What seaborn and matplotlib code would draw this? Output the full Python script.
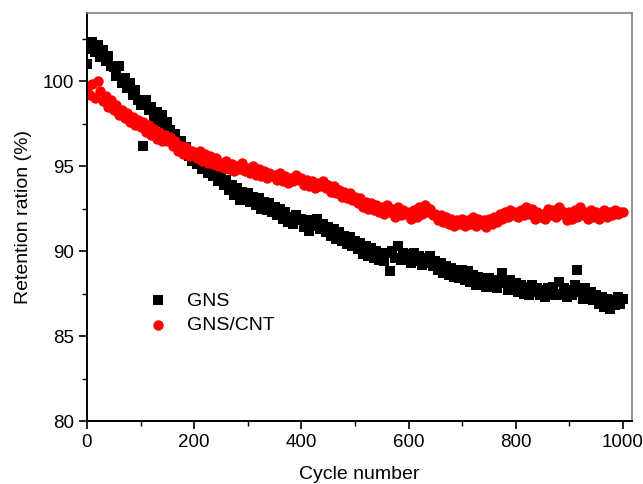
import numpy as np
import pandas as pd
import seaborn as sns
from matplotlib import pyplot as plt
from matplotlib.ticker import MultipleLocator

# retention read every 5 cycles, 0..1000
cycles = list(range(0, 1001, 5))

gns = [
    101.0, 101.9, 102.3, 101.7, 102.1, 101.4, 101.8, 101.2, 101.5, 100.9,
    100.8, 100.3, 100.9, 99.9, 100.2, 99.6, 99.9, 99.2, 99.5, 98.9,
    98.6, 96.2, 98.9, 98.3, 98.5, 97.8, 98.2, 97.6, 98.0, 97.3,
    97.6, 97.1, 96.5, 96.9, 96.2, 96.5, 95.9, 96.1, 95.6, 95.3,
    95.6, 95.1, 95.4, 94.8, 95.0, 94.6, 94.9, 94.4, 94.7, 94.1,
    94.4, 93.9, 94.2, 93.6, 93.9, 93.3, 93.7, 93.0, 93.5, 93.2,
    93.4, 92.9, 93.2, 92.7, 93.1, 92.5, 92.9, 92.4, 92.8, 92.3,
    92.6, 92.1, 92.5, 91.9, 92.3, 91.7, 92.0, 91.6, 92.1, 91.8,
    91.9, 91.4, 91.8, 91.2, 91.7, 91.5, 91.9, 91.3, 91.6, 91.1,
    91.4, 90.9, 91.3, 90.7, 91.1, 90.6, 90.9, 90.4, 90.8, 90.3,
    90.6, 90.1, 90.5, 89.8, 90.3, 89.7, 90.2, 89.6, 90.0, 89.5,
    89.9, 89.4, 89.9, 88.8, 90.0, 89.6, 90.3, 89.5, 89.9, 89.7,
    89.8, 89.3, 89.9, 89.4, 89.7, 89.2, 89.6, 89.3, 89.7, 89.1,
    89.4, 88.9, 89.3, 88.7, 89.1, 88.6, 89.0, 88.5, 88.9, 88.4,
    88.9, 88.3, 88.8, 88.2, 88.6, 88.0, 88.5, 88.1, 88.4, 87.9,
    88.4, 87.9, 88.3, 87.8, 88.2, 88.7, 88.1, 87.7, 88.3, 87.9,
    88.1, 87.6, 88.0, 87.5, 87.9, 87.4, 88.0, 87.6, 87.8, 87.4,
    87.7, 87.3, 87.8, 87.4, 87.9, 87.5, 88.2, 87.4, 87.8, 87.3,
    87.7, 87.4, 88.0, 88.9, 87.6, 87.2, 87.8, 87.3, 87.6, 87.1,
    87.4, 86.9, 87.3, 86.7, 87.2, 86.6, 87.1, 86.8, 87.3, 86.9,
    87.2,
]

gns_cnt = [
    99.6, 99.2, 99.8, 99.0, 100.0, 99.4, 98.8, 99.1, 98.5, 98.9,
    98.3, 98.6, 98.0, 98.3, 97.8, 98.1, 97.6, 97.9, 97.4, 97.7,
    97.3, 97.6, 97.0, 97.4, 96.8, 97.2, 96.6, 97.0, 96.5, 96.8,
    96.5, 96.7, 96.2, 96.5, 95.9, 96.2, 95.7, 96.1, 95.6, 95.9,
    95.8, 95.5, 95.9, 95.3, 95.7, 95.2, 95.6, 95.1, 95.5, 95.0,
    95.2, 94.9, 95.3, 94.8, 95.1, 94.7, 95.0, 94.8, 95.2, 94.7,
    94.9, 94.6, 95.0, 94.5, 94.8, 94.4, 94.7, 94.3, 94.6, 94.4,
    94.5, 94.2, 94.6, 94.1, 94.4, 94.0, 94.3, 94.1, 94.5, 94.2,
    94.3, 93.9, 94.2, 93.8, 94.1, 93.7, 94.0, 93.8, 94.1, 93.7,
    93.9, 93.5, 93.8, 93.4, 93.6, 93.2, 93.5, 93.1, 93.4, 93.0,
    93.2, 92.8, 93.1, 92.6, 92.9, 92.5, 92.8, 92.4, 92.7, 92.3,
    92.6, 92.2, 92.7, 92.3, 92.5, 92.0, 92.6, 92.1, 92.4, 92.2,
    92.3, 91.9, 92.4, 92.0, 92.6, 92.2, 92.7, 92.3, 92.5, 92.1,
    92.2, 91.8, 92.1, 91.7, 92.0, 91.6, 91.9, 91.5, 91.8, 91.6,
    91.9, 91.5, 91.8, 91.6, 92.0, 91.5, 91.9, 91.6, 91.8, 91.4,
    91.9, 91.6, 92.0, 91.7, 92.2, 91.9, 92.3, 92.0, 92.4, 92.1,
    92.3, 92.0, 92.4, 92.1, 92.6, 92.2, 92.5, 91.9, 92.3, 92.0,
    92.2, 91.9, 92.5, 92.1, 92.4, 92.0, 92.6, 92.2, 92.3, 91.8,
    92.3, 91.9, 92.4, 92.0, 92.6, 92.1, 92.3, 91.9, 92.4, 92.0,
    92.3, 91.9, 92.2, 92.4, 92.0, 92.3, 92.1, 92.4, 92.2, 92.3,
    92.3,
]


def main():
    sns.set_style("white")
    plt.rcParams["font.family"] = ["Liberation Sans", "DejaVu Sans"]
    plt.rcParams["text.color"] = "black"
    plt.rcParams["axes.labelcolor"] = "black"
    plt.rcParams["xtick.color"] = "black"
    plt.rcParams["ytick.color"] = "black"

    df = pd.DataFrame({"Cycle": cycles, "GNS": gns, "GNS/CNT": gns_cnt})

    fig, ax = plt.subplots(figsize=(6.43, 4.84), dpi=100)
    fig.subplots_adjust(left=0.1353, right=0.983, top=0.973, bottom=0.130)

    sns.scatterplot(data=df, x="Cycle", y="GNS", ax=ax, marker="s", color="black",
                    s=46, linewidth=0, label="GNS")
    sns.scatterplot(data=df, x="Cycle", y="GNS/CNT", ax=ax, marker="o", color="#ff0000",
                    s=56, linewidth=0, label="GNS/CNT")

    ax.set_xlim(0, 1017)
    ax.set_ylim(80, 104)
    ax.xaxis.set_major_locator(MultipleLocator(200))
    ax.xaxis.set_minor_locator(MultipleLocator(100))
    ax.yaxis.set_major_locator(MultipleLocator(5))
    ax.yaxis.set_minor_locator(MultipleLocator(2.5))
    ax.tick_params(which="major", direction="out", length=6, width=1.2, labelsize=13.5,
                   bottom=True, left=True, pad=3)
    ax.tick_params(which="minor", direction="out", length=3.5, width=1.0,
                   bottom=True, left=True)

    for side in ["left", "bottom"]:
        ax.spines[side].set_color("black")
        ax.spines[side].set_linewidth(1.4)
    for side in ["top", "right"]:
        ax.spines[side].set_color("#808080")
        ax.spines[side].set_linewidth(1.2)

    ax.set_xlabel("Cycle number", fontsize=14, labelpad=11)
    ax.set_ylabel("Retention ration (%)", fontsize=14, labelpad=8)

    ax.legend(loc="center left", bbox_to_anchor=(0.08, 0.265), frameon=False,
              fontsize=14, handlelength=1.0, handletextpad=1.0, labelspacing=0.35,
              markerscale=1.0)

    plt.savefig("out.png", dpi=100)
    plt.close()


if __name__ == '__main__':
    main()
